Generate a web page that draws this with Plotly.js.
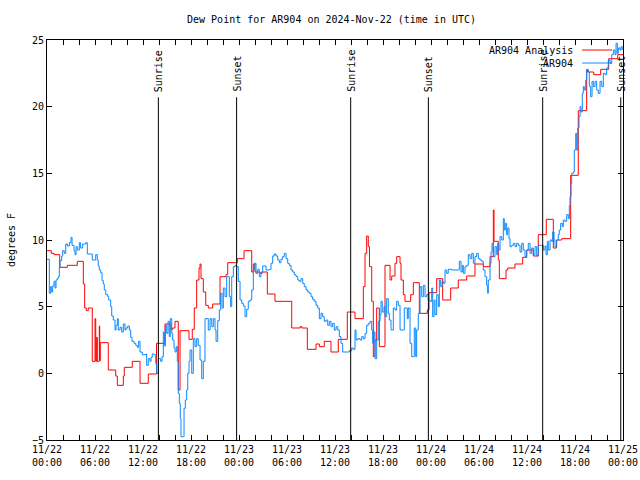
<!DOCTYPE html>
<html>
<head>
<meta charset="utf-8">
<script src="https://cdn.plot.ly/plotly-3.0.1.min.js"></script>
<style>html,body{margin:0;padding:0;background:#fff;}#chart{width:640px;height:480px;}</style>
</head>
<body>
<div id="chart"></div>
<script>
// hours since 2024-11-22 00:00 UTC
const analysisHours = [0,0.54,0.88,1.59,2.54,3.79,4.54,4.71,4.91,5.16,5.66,6.0,6.09,6.21,6.29,6.54,6.59,6.66,7.66,8.59,8.79,9.54,9.66,10.66,11.63,12.66,13.69,14.75,15.5,15.71,16.0,16.41,16.63,17.75,18.16,18.41,18.71,19.0,19.13,19.25,19.54,19.84,20.16,20.71,21.63,22.38,22.59,23.79,24.63,25.59,25.79,26.0,26.63,26.91,27.54,28.5,30.59,31.63,31.84,32.54,33.63,34.04,34.66,35.5,36.41,37.54,38.5,39.54,39.75,39.96,40.16,40.31,40.59,40.79,41.0,41.21,41.54,42.25,42.88,43.09,43.5,43.71,44.13,44.25,44.54,44.75,45.46,45.79,46.54,47.54,47.75,48.71,49.46,50.46,51.41,52.46,53.5,54.54,55.38,55.79,55.88,56.41,56.54,57.38,57.59,58.5,59.46,59.96,60.79,61.41,62.41,63.29,63.69,64.34,65.46,66.41,67.46,67.56,68.34,69.21,70.21,71.34,72];
const analysisValues = [9.2,9.0,8.9,7.95,8.1,8.4,6.7,4.9,4.7,4.9,0.9,4.1,0.9,2.7,0.9,3.55,0.95,2.3,0.25,-0.2,-0.9,-0.2,0.45,0.9,-0.75,-0.05,2.25,3.7,3.3,3.4,3.9,-1.25,3.2,2.55,3.3,4.9,7.0,7.9,8.2,7.1,6.1,5.1,4.9,5.2,7.25,7.4,8.3,8.6,9.2,7.6,8.2,7.6,7.5,7.6,5.95,5.4,3.4,3.5,3.4,1.8,2.2,2.0,2.4,1.6,2.55,4.6,4.1,6.5,9.0,10.3,9.5,8.0,5.4,1.25,2.5,4.9,2.0,8.1,7.0,7.3,8.25,8.75,8.25,7.0,5.9,5.4,5.9,6.8,4.5,4.75,6.05,7.1,5.5,6.4,7.0,7.3,8.2,8.0,8.75,12.25,9.9,8.5,7.1,7.75,7.9,8.2,8.7,9.25,8.8,10.4,11.55,9.4,10.0,10.1,14.85,19.7,22.75,22.6,22.4,22.8,23.6,23.9,23.9];

const obsHours = [0,0.29,0.46,0.59,0.71,0.88,1.0,1.13,1.29,1.41,1.54,1.63,1.84,1.96,2.16,2.34,2.54,2.79,3.0,3.13,3.38,3.5,3.63,3.79,4.04,4.21,4.46,4.84,5.04,5.66,6.09,6.29,6.41,6.54,6.71,6.88,7.04,7.16,7.34,7.59,7.71,7.96,8.09,8.29,8.5,8.63,8.79,8.91,9.13,9.34,9.54,9.75,9.88,10.09,10.29,10.46,10.63,10.88,11.09,11.29,11.46,11.63,11.91,12.38,12.46,12.66,12.88,13.0,13.16,13.41,13.59,13.71,13.91,14.21,14.38,14.54,14.66,14.79,14.96,15.13,15.29,15.41,15.59,15.71,15.88,16.0,16.16,16.29,16.41,16.54,16.66,16.75,17.04,17.13,17.29,17.46,17.59,17.75,17.88,18.09,18.29,18.5,18.71,18.91,19.13,19.34,19.54,19.75,20.16,20.38,20.59,20.79,21.0,21.13,21.34,21.54,21.71,21.88,22.04,22.25,22.46,22.66,22.79,22.96,23.09,23.29,23.5,23.71,23.91,24.13,24.34,24.54,24.75,24.96,25.16,25.38,25.59,25.79,25.91,26.13,26.34,26.54,26.75,26.96,27.38,27.79,28.0,28.21,28.41,28.63,28.84,29.04,29.25,29.46,29.66,29.88,30.09,30.29,30.5,30.71,30.91,31.13,31.34,31.54,31.75,31.96,32.16,32.38,32.59,32.79,33.0,33.21,33.41,33.63,33.84,34.04,34.25,34.46,34.66,34.88,35.09,35.29,35.5,35.71,35.91,36.13,36.34,36.54,36.75,36.96,37.46,37.79,38.09,38.29,38.5,38.63,38.84,39.13,39.34,39.54,39.75,39.96,40.16,40.38,40.59,40.71,40.88,41.0,41.21,41.41,41.63,41.75,41.91,42.13,42.25,42.46,42.66,42.79,43.0,43.29,43.5,43.71,43.91,44.13,44.54,44.66,44.88,45.04,45.16,45.38,45.59,45.79,45.91,46.09,46.21,46.41,46.63,46.84,47.04,47.25,47.46,47.66,47.88,48.09,48.21,48.38,48.5,48.71,48.91,49.04,49.21,49.38,49.54,49.75,49.96,50.16,50.59,51.0,51.41,51.54,51.75,51.91,52.04,52.25,52.46,52.66,52.88,53.09,53.29,53.5,53.71,53.91,54.13,54.34,54.54,54.75,54.96,55.09,55.16,55.38,55.5,55.63,55.79,56.0,56.21,56.34,56.46,56.63,56.84,57.04,57.16,57.29,57.46,57.59,57.75,57.88,58.09,58.29,58.5,58.71,58.91,59.13,59.34,59.54,59.75,59.96,60.16,60.38,60.59,60.79,61.0,61.21,61.41,61.84,62.04,62.25,62.38,62.54,62.66,62.88,63.09,63.21,63.38,63.5,63.71,63.91,64.04,64.21,64.41,64.54,64.75,64.96,65.16,65.29,65.38,65.5,65.59,65.79,65.91,66.09,66.21,66.34,66.5,66.63,66.75,66.91,67.04,67.16,67.34,67.46,67.66,67.79,67.96,68.13,68.29,68.5,68.71,68.91,69.13,69.34,69.54,69.75,69.96,70.16,70.38,70.59,70.79,71.0,71.13,71.29,71.41,71.63,71.75,71.9];
const obsValues = [8.55,6.0,6.5,6.1,6.55,6.9,6.4,7.0,7.1,7.25,7.95,8.45,8.8,9.2,9.0,9.7,9.55,9.8,10.2,9.6,9.2,8.9,9.5,9.25,9.8,9.4,9.7,9.8,8.95,8.5,8.9,8.5,8.05,7.75,7.55,6.95,6.7,6.25,5.9,5.75,5.5,5.0,4.3,4.0,3.25,3.6,4.1,3.25,3.45,3.1,3.7,3.25,3.4,3.55,3.25,2.7,2.4,2.25,2.1,1.95,2.4,1.6,1.4,1.45,0.6,1.1,0.9,1.2,1.45,1.4,0.75,0.0,1.1,0.9,1.25,3.1,2.05,3.6,3.0,3.9,2.75,4.1,3.0,2.5,1.9,1.6,2.0,0.9,-1.5,-2.25,-3.37,-4.75,-4.75,-2.62,-2.0,-1.25,0.0,0.9,1.75,0.0,2.6,2.0,2.6,2.1,1.0,-0.4,0.9,4.1,3.25,4.1,3.5,4.1,3.25,2.4,3.95,4.75,6.0,4.9,6.4,5.75,7.25,7.25,5.75,5.0,7.25,8.0,8.1,8.0,6.9,5.5,5.25,5.05,4.25,4.8,5.4,5.5,6.25,7.75,8.25,7.5,7.8,7.25,7.6,8.05,7.75,7.8,8.25,8.8,8.95,8.8,8.5,8.3,8.55,8.75,9.0,8.6,8.25,8.1,7.75,7.6,7.4,7.25,7.0,6.9,7.1,6.75,6.5,6.25,6.1,6.0,5.75,5.55,5.4,5.1,4.9,4.1,4.5,4.25,3.9,4.0,3.6,3.9,3.5,3.75,3.25,3.5,3.25,2.75,2.25,1.6,1.6,1.7,1.9,1.8,3.25,2.5,2.6,2.5,2.75,2.6,3.0,3.6,3.75,3.9,3.25,2.25,3.1,1.1,2.5,3.9,4.4,5.4,4.6,5.0,4.25,5.6,4.5,4.0,3.25,4.9,4.75,5.4,5.1,3.25,3.25,4.9,4.9,4.1,4.9,2.25,1.25,1.25,3.4,1.25,3.25,4.5,6.5,5.75,6.6,5.75,5.9,5.5,5.4,6.4,4.25,5.5,4.4,5.9,5.0,7.0,6.5,6.9,6.75,7.75,7.5,7.8,7.75,7.75,7.75,8.4,7.6,8.1,7.5,8.0,8.1,8.9,8.6,9.0,8.25,8.75,9.0,8.6,8.5,8.4,7.75,7.25,6.6,6.0,7.0,8.25,9.1,9.75,8.75,9.5,8.9,9.75,9.25,10.25,10.0,11.6,10.75,11.25,10.4,10.9,10.1,9.5,9.6,9.75,9.5,9.75,9.6,9.1,9.75,9.25,8.75,9.25,9.75,9.0,9.4,8.9,9.5,8.8,9.6,9.6,9.25,9.55,8.9,9.9,9.25,10.0,9.9,10.6,10.0,9.5,10.0,10.4,10.75,11.25,11.0,11.5,11.4,11.9,11.6,12.6,13.25,14.25,15.0,15.1,16.75,18.0,16.75,18.4,19.25,20.0,19.6,21.0,21.5,21.25,22.0,22.8,22.6,21.5,20.75,21.9,21.5,21.9,21.25,21.0,21.9,21.5,22.5,22.4,22.9,23.5,23.25,23.9,24.25,23.9,24.75,24.0,24.4,24.25,24.5,24.25];

const sunHours = [13.92, 23.7, 37.96, 47.67, 61.96, 71.72];
const sunLabels = ['Sunrise','Sunset','Sunrise','Sunset','Sunrise','Sunset'];
const seriesNames = ['AR904 Analysis', 'AR904'];

const BASE = Date.UTC(2024, 10, 22, 0, 0, 0);
function toDate(h) {
  return new Date(BASE + Math.round(h * 3600000)).toISOString().replace('T', ' ').slice(0, 19);
}

const FONT = 'DejaVu Sans Mono, Liberation Mono, monospace';
const RED = '#ff0000', BLUE = '#0a88ff';

const traces = [
  {x: analysisHours.map(toDate), y: analysisValues, type: 'scatter', mode: 'lines',
   line: {color: RED, width: 1, shape: 'hv'}, name: seriesNames[0], hoverinfo: 'skip'},
  {x: obsHours.map(toDate), y: obsValues, type: 'scatter', mode: 'lines',
   line: {color: BLUE, width: 1, shape: 'hv'}, name: seriesNames[1], hoverinfo: 'skip'}
];

const shapes = sunHours.map(h => ({
  type: 'line', xref: 'x', yref: 'y', x0: toDate(h), x1: toDate(h), y0: -5, y1: 20.7,
  line: {color: '#000', width: 1}
}));
const annotations = sunHours.map((h, i) => ({
  x: toDate(h), y: 20.95, xref: 'x', yref: 'y', text: sunLabels[i], textangle: -90,
  showarrow: false, xanchor: 'center', yanchor: 'bottom',
  font: {family: FONT, size: 10, color: '#000'}
}));
// legend (text on left, sample on right, gnuplot style)
const legendY = [0.975, 0.9425];
const legendColors = [RED, BLUE];
seriesNames.forEach((n, i) => {
  annotations.push({x: 0.917, y: legendY[i], xref: 'paper', yref: 'paper', text: n,
    showarrow: false, xanchor: 'right', yanchor: 'middle',
    font: {family: FONT, size: 10, color: '#000'}});
  shapes.push({type: 'line', xref: 'paper', yref: 'paper', x0: 0.929, x1: 0.981,
    y0: legendY[i], y1: legendY[i], line: {color: legendColors[i], width: 1}});
});

const layout = {
  width: 640, height: 480,
  margin: {l: 47, r: 17, t: 40, b: 40, pad: 0},
  paper_bgcolor: '#fff', plot_bgcolor: '#fff',
  showlegend: false,
  font: {family: FONT, size: 10, color: '#000'},
  title: {text: 'Dew Point for AR904 on 2024-Nov-22 (time in UTC)', x: 0.518, xanchor: 'center',
          y: 0.96, yanchor: 'middle', font: {family: FONT, size: 10, color: '#000'}},
  xaxis: {
    type: 'date', range: [toDate(0), toDate(72)],
    dtick: 6 * 3600000, tick0: toDate(0), tickformat: '%m/%d<br>%H:%M',
    ticks: 'inside', ticklen: 5, tickcolor: '#000', tickwidth: 1,
    minor: {dtick: 2 * 3600000, ticks: 'inside', ticklen: 5, tickcolor: '#000', showgrid: false},
    showline: true, linecolor: '#000', linewidth: 1, mirror: 'allticks',
    showgrid: false, zeroline: false, tickfont: {family: FONT, size: 10, color: '#000'}
  },
  yaxis: {
    range: [-5, 25], dtick: 5, tick0: -5,
    ticks: 'inside', ticklen: 5, tickcolor: '#000',
    showline: true, linecolor: '#000', linewidth: 1, mirror: 'allticks',
    showgrid: false, zeroline: false, tickfont: {family: FONT, size: 10, color: '#000'},
    title: {text: 'degrees F', standoff: 14, font: {family: FONT, size: 10, color: '#000'}}
  },
  shapes: shapes,
  annotations: annotations
};

Plotly.newPlot('chart', traces, layout, {staticPlot: true, displayModeBar: false});
</script>
</body>
</html>
